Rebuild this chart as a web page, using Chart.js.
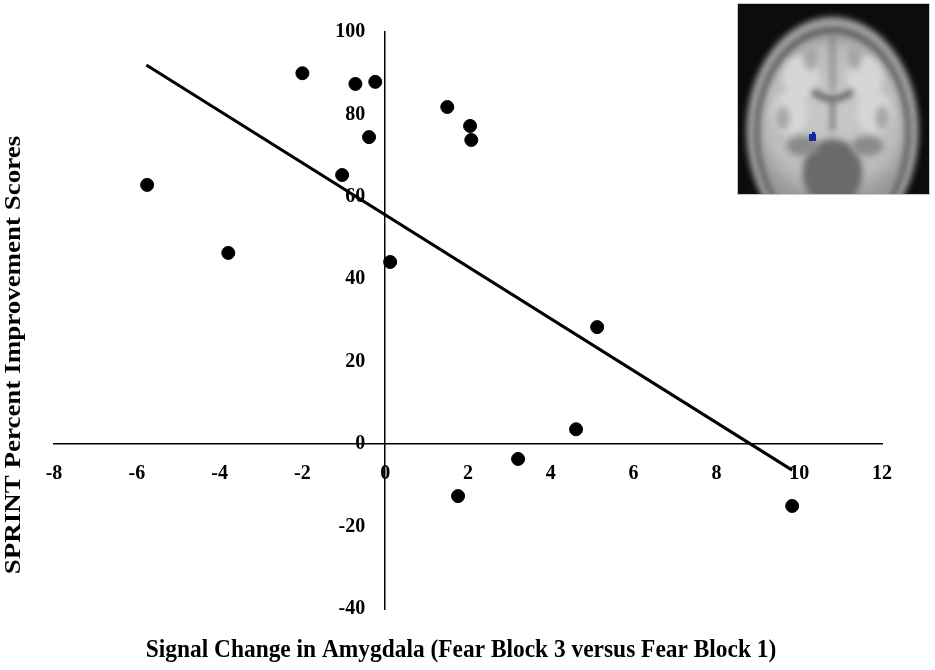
<!DOCTYPE html>
<html>
<head>
<meta charset="utf-8">
<script src="https://cdn.jsdelivr.net/npm/chart.js@4"></script>
<style>
  body { margin: 0; background: #fff; }
  #wrap { width: 935px; height: 670px; position: relative; }
</style>
</head>
<body>
<div id="wrap"><canvas id="signal-chart"></canvas></div>
<script>
'use strict';

// Data ********** //
let signalChange = [-5.75, -3.79, -2.0, -0.72, -0.24, -0.39, -1.04, 0.12, 1.5, 2.05, 2.08, 5.12, 4.61, 3.21, 1.76, 9.83];
let improvementScores = [62.9, 46.4, 90.0, 87.4, 87.9, 74.5, 65.3, 44.2, 81.8, 77.2, 73.8, 28.4, 3.6, -3.6, -12.6, -15.0];
// fitted line end points
let fitX = [-5.77, 9.83];
let fitY = [92.0, -6.3];

let xTitle = 'Signal Change in Amygdala (Fear Block 3 versus Fear Block 1)';
let yTitle = 'SPRINT Percent Improvement Scores';

let ctx = document.getElementById('signal-chart');

function toPoints(xs, ys) {
  let pts = [];
  for (let i = 0; i < xs.length; i++) {
    pts.push({ x: xs[i], y: ys[i] });
  }
  return pts;
}

let serif = '"Liberation Serif", "Times New Roman", serif';
let tickFont = { family: serif, size: 20, weight: 'bold' };

// draws the two axis titles and the little brain picture top right
let extrasPlugin = {
  id: 'extras',
  afterDraw(chart) {
    let c = chart.ctx;
    c.save();
    c.fillStyle = '#000';
    c.textAlign = 'center';
    c.textBaseline = 'middle';

    // x title, a bit narrow like the original
    c.save();
    c.font = 'bold 26px ' + serif;
    c.translate(461, 650);
    c.scale(0.9, 1);
    c.fillText(xTitle, 0, 0);
    c.restore();

    // y title
    c.save();
    c.font = 'bold 27px ' + serif;
    c.translate(14, 355);
    c.rotate(-Math.PI / 2);
    c.scale(1, 0.88);
    c.fillText(yTitle, 0, 0);
    c.restore();
    c.restore();

    drawBrain(c, 737, 3, 193, 192);
  }
};

function drawBrain(c, bx, by, bw, bh) {
  let cx = bx + bw / 2 - 1;
  c.save();
  c.fillStyle = '#0c0c0c';
  c.fillRect(bx, by, bw, bh);
  c.beginPath();
  c.rect(bx, by, bw, bh);
  c.clip();
  c.filter = 'blur(3px)';

  // skull
  c.fillStyle = '#a4a4a4';
  c.beginPath();
  c.ellipse(cx, by + 128, 86, 114, 0, 0, Math.PI * 2);
  c.fill();
  c.fillStyle = '#5a5a5a';
  c.beginPath();
  c.ellipse(cx, by + 130, 78, 106, 0, 0, Math.PI * 2);
  c.fill();

  // brain tissue
  let g = c.createRadialGradient(cx, by + 105, 10, cx, by + 115, 85);
  g.addColorStop(0, '#c8c8c8');
  g.addColorStop(0.75, '#bcbcbc');
  g.addColorStop(1, '#999');
  c.fillStyle = g;
  c.beginPath();
  c.ellipse(cx, by + 131, 73, 101, 0, 0, Math.PI * 2);
  c.fill();

  // white matter patches
  c.fillStyle = '#d6d6d6';
  [[-32, 75], [32, 75], [-42, 110], [42, 110]].forEach(function (p) {
    c.beginPath();
    c.ellipse(cx + p[0], by + p[1], 18, 22, 0, 0, Math.PI * 2);
    c.fill();
  });
  c.fillStyle = '#a6a6a6';
  [[-50, 115], [50, 115], [-22, 55], [22, 55]].forEach(function (p) {
    c.beginPath();
    c.ellipse(cx + p[0], by + p[1], 7, 12, 0, 0, Math.PI * 2);
    c.fill();
  });

  // midline
  c.strokeStyle = '#808080';
  c.lineWidth = 4;
  c.beginPath();
  c.moveTo(cx, by + 32);
  c.lineTo(cx, by + 88);
  c.stroke();

  // ventricles
  c.strokeStyle = '#4e4e4e';
  c.lineWidth = 5;
  c.beginPath();
  c.moveTo(cx - 20, by + 88);
  c.quadraticCurveTo(cx, by + 104, cx + 20, by + 88);
  c.stroke();
  c.lineWidth = 3;
  c.beginPath();
  c.moveTo(cx, by + 98);
  c.lineTo(cx, by + 128);
  c.stroke();

  // lower darker region
  c.fillStyle = '#6a6a6a';
  c.beginPath();
  c.ellipse(cx, by + 170, 30, 34, 0, 0, Math.PI * 2);
  c.fill();
  c.fillStyle = '#8a8a8a';
  c.beginPath();
  c.ellipse(cx - 30, by + 143, 16, 10, 0, 0, Math.PI * 2);
  c.ellipse(cx + 35, by + 143, 16, 10, 0, 0, Math.PI * 2);
  c.fill();

  c.filter = 'none';
  // amygdala blob
  c.fillStyle = '#15289a';
  c.fillRect(bx + 72, by + 131, 7, 7);
  c.fillRect(bx + 75, by + 129, 3, 3);
  c.restore();

  c.save();
  c.strokeStyle = '#c8c8c8';
  c.lineWidth = 1;
  c.strokeRect(bx + 0.5, by + 0.5, bw - 1, bh - 1);
  c.restore();
}

let chartObj = {
  type: 'scatter',
  data: {
    datasets: [
      {
        label: 'Participants',
        data: toPoints(signalChange, improvementScores),
        backgroundColor: '#000',
        borderColor: '#000',
        pointRadius: 6.5,
        pointHoverRadius: 6.5
      },
      {
        label: 'Fit',
        data: toPoints(fitX, fitY),
        showLine: true,
        borderColor: '#000',
        borderWidth: 3,
        pointRadius: 0,
        fill: false
      }
    ]
  },
  options: {
    responsive: true,
    maintainAspectRatio: false,
    animation: false,
    layout: {
      padding: { left: 54, right: 53, top: 32, bottom: 61 }
    },
    plugins: {
      legend: { display: false },
      tooltip: { enabled: false }
    },
    scales: {
      x: {
        type: 'linear',
        min: -8,
        max: 12,
        position: { y: 0 },
        grid: { display: false },
        border: { color: '#000', width: 1.5 },
        ticks: {
          stepSize: 2,
          autoSkip: false,
          maxRotation: 0,
          color: '#000',
          font: tickFont,
          padding: 10
        }
      },
      y: {
        type: 'linear',
        min: -40,
        max: 100,
        position: { x: 0 },
        grid: { display: false },
        border: { color: '#000', width: 1.5 },
        ticks: {
          stepSize: 20,
          autoSkip: false,
          color: '#000',
          font: tickFont,
          // padding is ignored for an axis placed at a value, so push labels off the line
          callback: function (value) {
            return value + '    ';
          }
        }
      }
    }
  },
  plugins: [extrasPlugin]
};

new Chart(ctx, chartObj);
</script>
</body>
</html>
